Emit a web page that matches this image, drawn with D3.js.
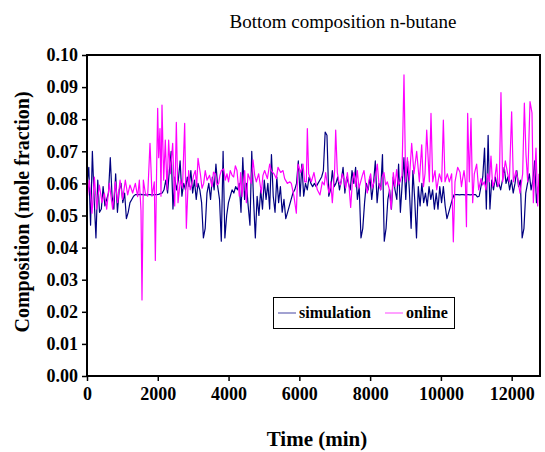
<!DOCTYPE html>
<html><head><meta charset="utf-8">
<script src="https://cdn.jsdelivr.net/npm/d3@7"></script>
<style>body{margin:0;background:#fff}svg text{font-family:"Liberation Serif","Times New Roman",serif}</style>
</head><body><svg id="c" width="545" height="452"></svg>
<script>
const chartTitle = "Bottom composition n-butane";
const xTitle = "Time (min)";
const yTitle = "Composition (mole fraction)";
const xTicks = [0,2000,4000,6000,8000,10000,12000];
const yTicks = [0,0.01,0.02,0.03,0.04,0.05,0.06,0.07,0.08,0.09,0.10];
const seriesNames = ["simulation","online"];

// simulation: sampled every 50.6 min from t = 0
const simInterval = 50.6;
const simValues = [
0.060,0.065,0.047,0.070,0.055,0.043,0.061,0.051,0.052,0.059,
0.053,0.055,0.057,0.068,0.056,0.052,0.063,0.051,0.058,0.060,
0.054,0.057,0.049,0.051,0.054,0.055,0.056,0.0565,0.0565,0.0565,
0.0566,0.0565,0.0564,0.0564,0.0565,0.0565,0.0564,0.0564,0.0565,0.0565,
0.0566,0.0568,0.057,0.058,0.061,0.057,0.064,0.070,0.052,0.062,
0.058,0.061,0.067,0.056,0.060,0.058,0.062,0.059,0.064,0.057,
0.061,0.055,0.060,0.058,0.054,0.043,0.046,0.057,0.060,0.055,
0.062,0.058,0.066,0.059,0.055,0.042,0.070,0.043,0.050,0.054,
0.056,0.058,0.057,0.059,0.058,0.060,0.051,0.068,0.055,0.060,
0.053,0.047,0.070,0.055,0.043,0.056,0.050,0.058,0.052,0.061,
0.055,0.060,0.052,0.069,0.056,0.051,0.062,0.054,0.059,0.051,
0.055,0.049,0.051,0.053,0.055,0.057,0.058,0.060,0.067,0.056,
0.066,0.056,0.060,0.058,0.062,0.060,0.059,0.060,0.059,0.060,
0.061,0.062,0.064,0.076,0.075,0.056,0.058,0.064,0.059,0.060,
0.062,0.058,0.061,0.065,0.057,0.062,0.060,0.058,0.064,0.060,
0.065,0.055,0.059,0.043,0.046,0.054,0.060,0.058,0.062,0.055,
0.060,0.067,0.054,0.060,0.058,0.069,0.042,0.046,0.055,0.058,
0.052,0.062,0.058,0.055,0.066,0.051,0.060,0.068,0.055,0.067,
0.058,0.046,0.064,0.055,0.043,0.059,0.053,0.060,0.054,0.057,
0.053,0.059,0.055,0.058,0.052,0.057,0.052,0.059,0.054,0.059,
0.053,0.049,0.051,0.053,0.055,0.0565,0.0565,0.0565,0.0564,0.0565,
0.0565,0.0564,0.0565,0.0565,0.0564,0.0565,0.0565,0.0565,0.0558,0.056,
0.059,0.062,0.071,0.052,0.075,0.052,0.061,0.058,0.062,0.059,
0.060,0.058,0.061,0.065,0.060,0.062,0.058,0.061,0.057,0.060,
0.064,0.059,0.061,0.043,0.046,0.057,0.060,0.063,0.058,0.061,
0.067,0.054,0.059
];

// online measurements
const onlineTime = [
0,66,142,208,273,348,424,490,556,631,725,801,867,933,1007,1083,1149,1215,1290,1366,
1432,1479,1526,1554,1592,1648,1714,1780,1808,1837,1902,1931,1968,1997,2025,2062,2091,2119,2167,2213,
2261,2307,2355,2421,2478,2524,2572,2638,2698,2760,2807,2872,2916,2967,3012,3061,3098,3137,3203,3250,
3297,3341,3391,3463,3532,3574,3626,3675,3720,3756,3796,3862,3908,3956,3999,4048,4101,4144,4192,4238,
4304,4342,4380,4455,4503,4549,4597,4643,4691,4739,4785,4851,4926,4971,5020,5096,5162,5208,5284,5350,
5397,5473,5538,5585,5661,5727,5773,5849,5915,5962,6038,6103,6151,6198,6226,6263,6338,6414,6460,6508,
6583,6649,6703,6743,6794,6837,6885,6932,6997,7027,7073,7118,7167,7214,7262,7310,7356,7401,7450,7498,
7544,7594,7638,7685,7732,7781,7827,7877,7921,7968,8015,8060,8109,8156,8203,8252,8297,8343,8392,8439,
8486,8535,8594,8655,8702,8749,8799,8844,8900,8957,9004,9052,9108,9174,9240,9315,9391,9457,9507,9551,
9599,9673,9720,9768,9833,9881,9956,10022,10069,10116,10182,10238,10304,10351,10398,10473,10539,10581,10615,10653,
10692,10722,10756,10803,10850,10898,10944,11010,11067,11132,11178,11227,11274,11321,11370,11415,11462,11509,11576,11613,
11651,11697,11745,11820,11887,11933,11999,12047,12122,12169,12235,12310,12358,12404,12452,12518,12574,12612,12687,12734,
12772
];
const onlineValues = [
0.0548,0.061,0.0507,0.062,0.052,0.0595,0.054,0.057,0.052,0.060,0.052,0.0605,0.054,0.061,0.055,0.061,0.0564,0.0595,0.057,0.060,
0.0559,0.061,0.0515,0.0237,0.061,0.057,0.056,0.0725,0.0648,0.056,0.0605,0.036,0.0648,0.0834,0.068,0.0771,0.056,0.0844,0.061,0.0735,
0.058,0.0735,0.063,0.0725,0.053,0.079,0.054,0.061,0.0585,0.0787,0.046,0.064,0.058,0.060,0.0625,0.064,0.059,0.0678,0.063,0.0585,
0.060,0.064,0.061,0.0625,0.059,0.0635,0.063,0.0595,0.060,0.0625,0.064,0.0645,0.061,0.063,0.0605,0.064,0.0625,0.062,0.0655,0.064,
0.056,0.0634,0.0559,0.064,0.054,0.063,0.0615,0.060,0.0673,0.0625,0.0605,0.063,0.057,0.0625,0.064,0.0615,0.066,0.064,0.063,0.0615,
0.065,0.0634,0.064,0.0615,0.060,0.0605,0.060,0.0559,0.0507,0.066,0.0634,0.066,0.0605,0.0605,0.0771,0.063,0.0605,0.0634,0.0605,0.058,
0.0564,0.0605,0.0595,0.0634,0.0595,0.057,0.0605,0.054,0.064,0.0766,0.0634,0.0605,0.0595,0.063,0.0615,0.0585,0.0634,0.0595,0.0525,0.0605,
0.0634,0.059,0.064,0.0585,0.0605,0.0625,0.064,0.0595,0.057,0.061,0.063,0.0585,0.0605,0.0625,0.066,0.0595,0.058,0.062,0.0634,0.0595,
0.0605,0.0585,0.052,0.0634,0.059,0.0643,0.0595,0.0605,0.0625,0.0938,0.0605,0.068,0.061,0.0725,0.063,0.070,0.0605,0.072,0.059,0.063,
0.0766,0.0605,0.0818,0.0605,0.064,0.058,0.063,0.0605,0.0797,0.0605,0.063,0.0605,0.063,0.0418,0.0605,0.065,0.0635,0.059,0.0615,0.064,
0.0605,0.0465,0.0818,0.0605,0.0803,0.054,0.063,0.066,0.058,0.0615,0.0595,0.0605,0.058,0.063,0.0605,0.0685,0.059,0.0605,0.066,0.059,
0.0605,0.0883,0.0605,0.067,0.063,0.0605,0.0823,0.0605,0.064,0.0615,0.057,0.063,0.085,0.069,0.0605,0.0855,0.082,0.054,0.071,0.053,
0.063
];

const colors = ["#000080","#ff00ff"];
const W = 545, H = 452;
const m = {left:87, top:55, right:540, bottom:376};
const FONT = "Liberation Serif, Times New Roman, serif";
const svg = d3.select("#c");

const x = d3.scaleLinear().domain([0,12800]).range([m.left,m.right]);
const y = d3.scaleLinear().domain([0,0.10]).range([m.bottom,m.top]);

const simData = simValues.map((v,i)=>({t:i*simInterval, v}));
const onData = onlineTime.map((t,i)=>({t, v:onlineValues[i]}));

const line = d3.line().x(d=>x(d.t)).y(d=>y(d.v));

svg.append("clipPath").attr("id","pc").append("rect")
  .attr("x",m.left).attr("y",m.top).attr("width",m.right-m.left).attr("height",m.bottom-m.top);

const g = svg.append("g").attr("clip-path","url(#pc)");
g.append("path").datum(simData).attr("d",line).attr("fill","none")
  .attr("stroke",colors[0]).attr("stroke-width",1.2).attr("stroke-linejoin","round");
g.append("path").datum(onData).attr("d",line).attr("fill","none")
  .attr("stroke",colors[1]).attr("stroke-width",1.2).attr("stroke-linejoin","round");

// frame
svg.append("rect").attr("x",m.left).attr("y",m.top).attr("width",m.right-m.left)
  .attr("height",m.bottom-m.top).attr("fill","none").attr("stroke","#000").attr("stroke-width",2);

// axes
const xAxis = d3.axisBottom(x).tickValues(xTicks).tickFormat(d3.format("d")).tickSize(5).tickSizeOuter(0);
const yAxis = d3.axisLeft(y).tickValues(yTicks).tickFormat(d3.format(".2f")).tickSize(5).tickSizeOuter(0);
const gx = svg.append("g").attr("transform",`translate(0,${m.bottom})`).call(xAxis);
const gy = svg.append("g").attr("transform",`translate(${m.left},0)`).call(yAxis);
[gx,gy].forEach(a=>{
  a.attr("font-family",FONT);
  a.select(".domain").remove();
  a.selectAll(".tick line").attr("stroke","#000").attr("stroke-width",1.5);
  a.selectAll(".tick text").attr("font-family",FONT)
    .attr("font-size",18).attr("font-weight","bold").attr("fill","#000");
});
gx.selectAll(".tick text").attr("dy","0.71em").attr("y",11);
gy.selectAll(".tick text").attr("x",-9);

// titles
svg.append("text").attr("x",343).attr("y",28).attr("text-anchor","middle")
  .attr("font-family",FONT).attr("font-size",19).text(chartTitle);
svg.append("text").attr("x",317).attr("y",446).attr("text-anchor","middle")
  .attr("font-family",FONT).attr("font-size",21).attr("font-weight","bold").text(xTitle);
svg.append("text").attr("transform",`translate(29,212) rotate(-90)`)
  .attr("text-anchor","middle").attr("font-family",FONT).attr("font-size",20)
  .attr("font-weight","bold").text(yTitle);

// legend
const lg = svg.append("g");
lg.append("rect").attr("x",273.5).attr("y",297.5).attr("width",181).attr("height",31)
  .attr("fill","#fff").attr("stroke","#000").attr("stroke-width",1);
const lx = [278,385];
seriesNames.forEach((n,i)=>{
  lg.append("line").attr("x1",lx[i]).attr("x2",lx[i]+18).attr("y1",313).attr("y2",313)
    .attr("stroke",colors[i]).attr("stroke-width",1.2).attr("opacity",0.6);
  lg.append("text").attr("x",lx[i]+21).attr("y",318).attr("font-family",FONT).attr("font-size",16)
    .attr("font-weight","bold").text(n);
});
</script></body></html>
